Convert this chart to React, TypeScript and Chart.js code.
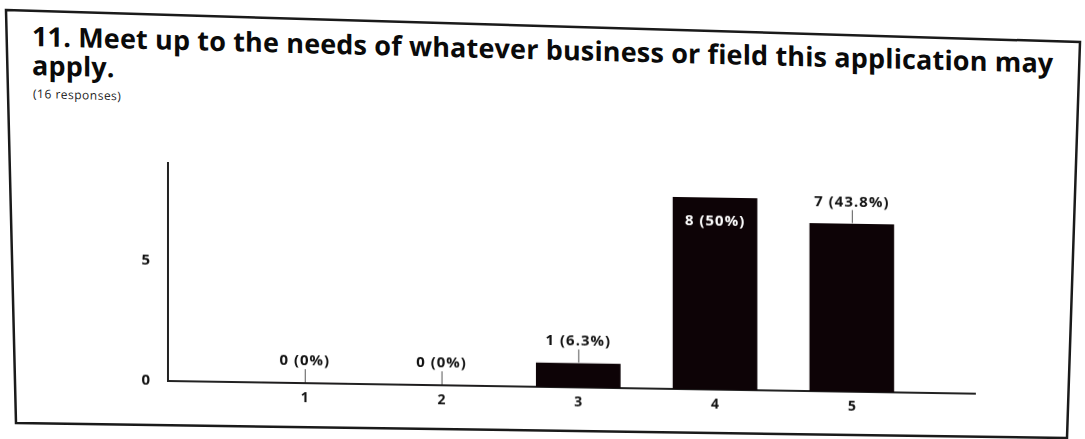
import React, { useEffect, useRef } from "react";
import { Chart, registerables } from "chart.js";

Chart.register(...registerables);

const categories = [1, 2, 3, 4, 5];
const counts = [0, 0, 1, 8, 7];
const percentLabels = ["0%", "0%", "6.3%", "50%", "43.8%"];
const yTicks = [0, 5];
const titleText = "11. Meet up to the needs of whatever business or field this application may apply.";
const subtitleText = "(16 responses)";

const BAR_COLOR = "#0d0306";
const FONT = "'Open Sans', 'Liberation Sans', Arial, sans-serif";

const labelPlugin = {
  id: "barLabels",
  afterDatasetsDraw(chart: any) {
    const ctx = chart.ctx;
    const meta = chart.getDatasetMeta(0);
    const maxVal = Math.max(...counts);
    ctx.save();
    ctx.font = `bold 15px ${FONT}`;
    try {
      (ctx as any).letterSpacing = "1px";
    } catch (e) {}
    ctx.textAlign = "center";
    ctx.textBaseline = "middle";
    meta.data.forEach((bar: any, i: number) => {
      const v = counts[i];
      const text = `${v} (${percentLabels[i]})`;
      const x = bar.x;
      const y = bar.y;
      if (v === maxVal) {
        ctx.fillStyle = "#ffffff";
        ctx.fillText(text, x, y + 23);
      } else {
        ctx.strokeStyle = "#555";
        ctx.lineWidth = 1;
        ctx.beginPath();
        ctx.moveTo(x + 0.5, y - 1);
        ctx.lineTo(x + 0.5, y - 14);
        ctx.stroke();
        ctx.fillStyle = "#111";
        ctx.fillText(text, x, y - 22);
      }
    });
    ctx.restore();
  },
};

export default function App() {
  const canvasRef = useRef<HTMLCanvasElement | null>(null);

  useEffect(() => {
    if (!canvasRef.current) return;
    const chart = new Chart(canvasRef.current, {
      type: "bar",
      data: {
        datasets: [
          {
            data: categories.map((c, i) => ({ x: c, y: counts[i] })),
            backgroundColor: BAR_COLOR,
            borderWidth: 0,
            barThickness: 84,
          },
        ],
      },
      options: {
        responsive: false,
        animation: false,
        layout: { padding: { top: 163, right: 110, left: 0, bottom: 0 } },
        plugins: {
          legend: { display: false },
          tooltip: { enabled: false },
        },
        scales: {
          x: {
            type: "linear",
            offset: false,
            min: 0,
            max: 5.9,
            grid: { display: false, drawTicks: false },
            border: { display: true, color: "#222", width: 2 },
            afterBuildTicks(scale: any) {
              scale.ticks = categories.map((v) => ({ value: v }));
            },
            ticks: {
              color: "#111",
              font: { family: FONT, size: 14, weight: "bold" },
              padding: 7,
              maxRotation: 0,
              autoSkip: false,
            },
            afterFit(scale: any) {
              scale.height = 439 - 381;
            },
          },
          y: {
            min: 0,
            max: 9.1,
            grid: { display: false, drawTicks: false },
            border: { display: true, color: "#222", width: 2 },
            afterBuildTicks(scale: any) {
              scale.ticks = yTicks.map((v) => ({ value: v }));
            },
            ticks: {
              color: "#111",
              font: { family: FONT, size: 15, weight: "bold" },
              padding: 18,
            },
            afterFit(scale: any) {
              scale.width = 168;
            },
          },
        },
      },
      plugins: [labelPlugin],
    });
    return () => chart.destroy();
  }, []);

  return (
    <div
      style={{
        position: "absolute",
        left: 0,
        top: 0,
        width: 1085,
        height: 439,
        background: "#fff",
        overflow: "hidden",
      }}
    >
      <svg
        width={1085}
        height={439}
        style={{ position: "absolute", left: 0, top: 0 }}
      >
        <polygon
          points="6,10 1080,42 1067,438 16,423"
          fill="none"
          stroke="#1a1a1a"
          strokeWidth={2.5}
        />
      </svg>
      <div
        style={{
          position: "absolute",
          left: 32,
          top: 21,
          width: 1045,
          fontFamily: FONT,
          fontWeight: 700,
          fontSize: 27,
          letterSpacing: "0.15px",
          lineHeight: "29px",
          color: "#0a0a0a",
          transform: "skewY(1.5deg)",
          transformOrigin: "0 0",
        }}
      >
        {titleText}
      </div>
      <div
        style={{
          position: "absolute",
          left: 33,
          top: 85,
          fontFamily: FONT,
          fontSize: 12,
          letterSpacing: "0.5px",
          color: "#222",
          transform: "skewY(1.5deg)",
          transformOrigin: "0 0",
        }}
      >
        {subtitleText}
      </div>
      <canvas
        ref={canvasRef}
        width={1085}
        height={439}
        style={{
          position: "absolute",
          left: 0,
          top: 0,
          width: 1085,
          height: 439,
          transform: "skewY(0.9deg)",
          transformOrigin: "168px 381px",
        }}
      />
    </div>
  );
}
